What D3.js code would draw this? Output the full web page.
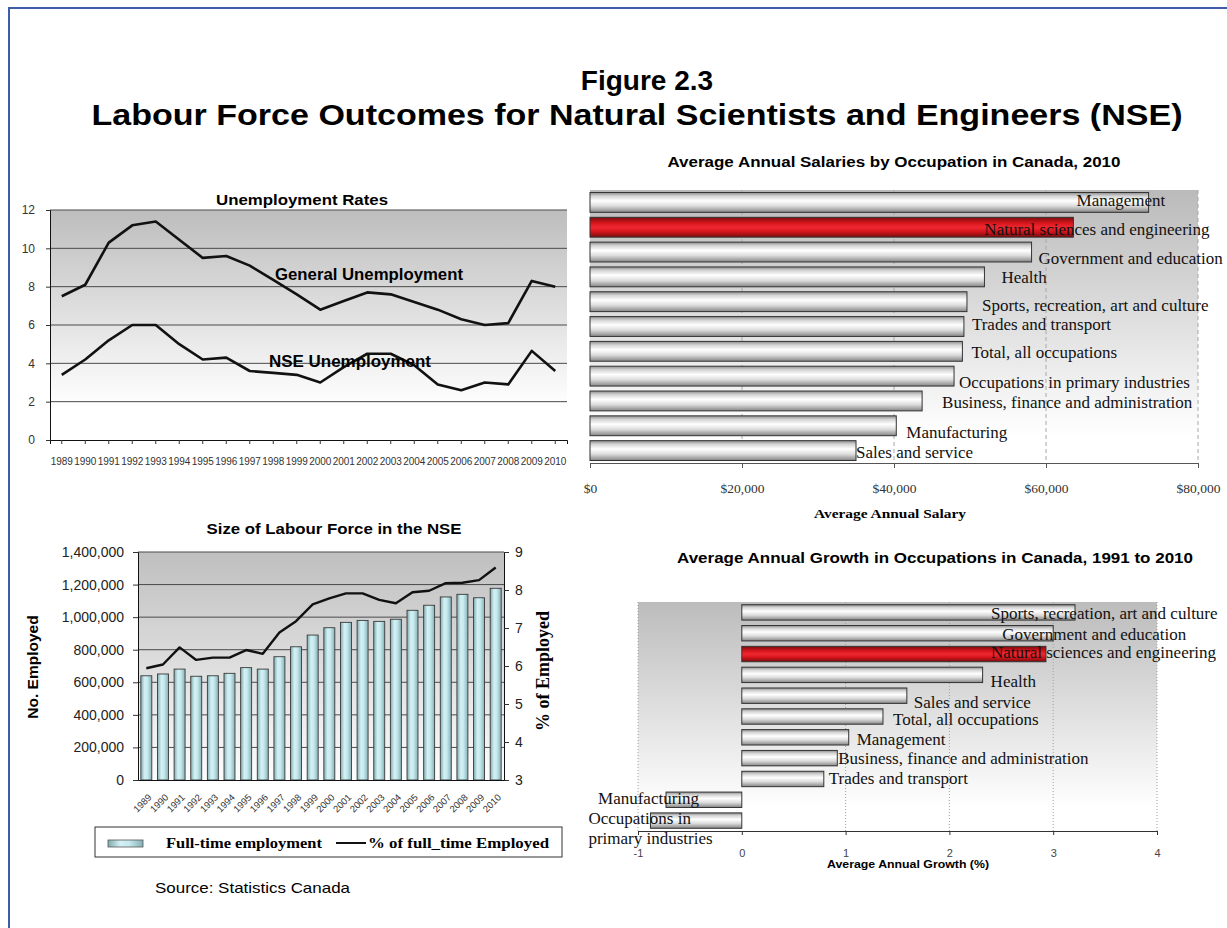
<!DOCTYPE html>
<html>
<head>
<meta charset="utf-8">
<script src="https://cdn.jsdelivr.net/npm/d3@7"></script>
<style>
  body { margin: 0; background: #fff; }
  svg { display: block; font-family: "Liberation Sans", Arial, sans-serif; }
</style>
</head>
<body>
<svg id="figure" width="1227" height="928"></svg>
<script>
// Data
const years = ["1989", "1990", "1991", "1992", "1993", "1994", "1995", "1996", "1997", "1998", "1999",
  "2000", "2001", "2002", "2003", "2004", "2005", "2006", "2007", "2008", "2009", "2010"];

const generalUnemployment = [7.5, 8.1, 10.3, 11.2, 11.4, 10.45, 9.5, 9.6, 9.1, 8.35, 7.6,
  6.8, 7.25, 7.7, 7.6, 7.2, 6.8, 6.3, 6.0, 6.1, 8.3, 8.0];
const nseUnemployment = [3.4, 4.2, 5.2, 6.0, 6.0, 5.0, 4.2, 4.3, 3.6, 3.5, 3.4,
  3.0, 3.8, 4.5, 4.5, 3.9, 2.9, 2.6, 3.0, 2.9, 4.65, 3.6];
const unemploymentTicks = [0, 2, 4, 6, 8, 10, 12];

const fullTimeEmployment = [640000, 651000, 681000, 637000, 640000, 655000, 690000, 681000, 757000, 818000, 890000,
  935000, 968000, 980000, 974000, 987000, 1042000, 1073000, 1124000, 1140000, 1119000, 1177000];
const pctFullTimeEmployed = [5.94, 6.04, 6.49, 6.16, 6.22, 6.22, 6.42, 6.32, 6.88, 7.18, 7.62,
  7.78, 7.91, 7.91, 7.74, 7.65, 7.94, 7.98, 8.18, 8.19, 8.26, 8.59];
const employedTicks = [0, 200000, 400000, 600000, 800000, 1000000, 1200000, 1400000];
const pctTicks = [3, 4, 5, 6, 7, 8, 9];

const salaryOccupations = ["Management", "Natural sciences and engineering", "Government and education", "Health",
  "Sports, recreation, art and culture", "Trades and transport", "Total, all occupations",
  "Occupations in primary industries", "Business, finance and administration", "Manufacturing", "Sales and service"];
const salaryValues = [73500, 63600, 58100, 51900, 49600, 49200, 49000, 47900, 43700, 40300, 35000];
const salaryTicks = [0, 20000, 40000, 60000, 80000];

const growthOccupations = ["Sports, recreation, art and culture", "Government and education", "Natural sciences and engineering",
  "Health", "Sales and service", "Total, all occupations", "Management", "Business, finance and administration",
  "Trades and transport", "Manufacturing", "Occupations in primary industries"];
const growthValues = [3.21, 3.0, 2.93, 2.32, 1.59, 1.36, 1.03, 0.92, 0.79, -0.73, -0.88];
const growthTicks = [-1, 0, 1, 2, 3, 4];

const highlight = "Natural sciences and engineering";

// Label nudges (pixels), copying where the original data labels sit
const salaryLabelDx = [-72, -89, 7, 17, 15, 8, 9, 5, 20, 10, 0];
const salaryLabelDy = [-2, 2, 6, 0, 3, -2, 1, 6, 1, 6, 1];
const growthLabelDx = [-84, -51, -55, 8, 7, 10, 8, 1, 5, -68, -62];
const growthLabelDy = [1, 1, -2, 6, 6, 3, 2, 0, -1, -2, -3];

const serif = '"Liberation Serif", "Times New Roman", serif';
const svg = d3.select("#figure");

// the original text is set a little wide, so stretch it to the measured length
function fit(sel, len) {
  return sel.attr("textLength", len).attr("lengthAdjust", "spacingAndGlyphs");
}

// Gradients
const defs = svg.append("defs");
function vGradient(id, stops) {
  const g = defs.append("linearGradient").attr("id", id)
    .attr("x1", 0).attr("y1", 0).attr("x2", 0).attr("y2", 1);
  stops.forEach(s => g.append("stop").attr("offset", s[0]).attr("stop-color", s[1]));
}
function hGradient(id, stops) {
  const g = defs.append("linearGradient").attr("id", id)
    .attr("x1", 0).attr("y1", 0).attr("x2", 1).attr("y2", 0);
  stops.forEach(s => g.append("stop").attr("offset", s[0]).attr("stop-color", s[1]));
}
vGradient("bgUnemp", [["0%", "#bdbdbd"], ["85%", "#ffffff"], ["100%", "#ffffff"]]);
vGradient("bgLabour", [["0%", "#bfbfbf"], ["100%", "#fdfdfd"]]);
vGradient("bgSalary", [["0%", "#bababa"], ["90%", "#ffffff"], ["100%", "#ffffff"]]);
vGradient("bgGrowth", [["0%", "#bcbcbc"], ["90%", "#ffffff"], ["100%", "#ffffff"]]);
vGradient("barGray", [["0%", "#8c8c8c"], ["18%", "#d4d4d4"], ["42%", "#ffffff"], ["68%", "#dcdcdc"], ["100%", "#858585"]]);
vGradient("barRed", [["0%", "#7a0c0c"], ["30%", "#d8161e"], ["50%", "#f02830"], ["70%", "#d8161e"], ["100%", "#7a0c0c"]]);
hGradient("barCyan", [["0%", "#7fa9ae"], ["35%", "#d4f1f4"], ["60%", "#c6eaee"], ["100%", "#86b0b5"]]);

// Page frame
svg.append("path")
  .attr("d", "M9,928 V8 H1227")
  .attr("fill", "none")
  .attr("stroke", "#3f5dab")
  .attr("stroke-width", 2);

// Main title
svg.append("text")
  .attr("x", 647).attr("y", 90)
  .attr("text-anchor", "middle")
  .attr("font-size", 28).attr("font-weight", "bold")
  .text("Figure 2.3");
fit(svg.append("text")
  .attr("x", 637).attr("y", 125)
  .attr("text-anchor", "middle")
  .attr("font-size", 29).attr("font-weight", "bold")
  .text("Labour Force Outcomes for Natural Scientists and Engineers (NSE)"), 1091);

// Render Unemployment Rates
function renderUnemployment() {
  const left = 50, right = 567, top = 210, bottom = 440;
  const x = d3.scaleBand().domain(years).range([left, right]);
  const y = d3.scaleLinear().domain([0, 12]).range([bottom, top]);
  const g = svg.append("g");

  g.append("rect")
    .attr("x", left).attr("y", top)
    .attr("width", right - left).attr("height", bottom - top)
    .attr("fill", "url(#bgUnemp)");

  g.selectAll(".grid")
    .data(unemploymentTicks.filter(d => d > 0))
    .enter().append("line")
    .attr("x1", left).attr("x2", right)
    .attr("y1", d => y(d)).attr("y2", d => y(d))
    .attr("stroke", "#4a4a4a").attr("stroke-width", 1);

  const yAxis = g.append("g")
    .attr("transform", `translate(${left},0)`)
    .call(d3.axisLeft(y).tickValues(unemploymentTicks).tickSize(4).tickPadding(11));
  yAxis.selectAll("text").attr("font-size", 12).attr("fill", "#333").attr("font-family", null);

  const xAxis = g.append("g")
    .attr("transform", `translate(0,${bottom})`)
    .call(d3.axisBottom(x).tickSize(4).tickPadding(14));
  xAxis.selectAll("text").attr("font-size", 10).attr("fill", "#333").attr("font-family", null);

  [yAxis, xAxis].forEach(a => {
    a.select(".domain").attr("stroke", "#111");
    a.selectAll(".tick line").attr("stroke", "#333");
  });

  const line = d3.line()
    .x((d, i) => x(years[i]) + x.bandwidth() / 2)
    .y(d => y(d));

  [generalUnemployment, nseUnemployment].forEach(series => {
    g.append("path")
      .datum(series)
      .attr("d", line)
      .attr("fill", "none")
      .attr("stroke", "#111")
      .attr("stroke-width", 2.6)
      .attr("stroke-linejoin", "round");
  });

  fit(g.append("text")
    .attr("x", 275).attr("y", 280)
    .attr("font-size", 16).attr("font-weight", "bold")
    .text("General Unemployment"), 188);
  fit(g.append("text")
    .attr("x", 269).attr("y", 367)
    .attr("font-size", 16).attr("font-weight", "bold")
    .text("NSE Unemployment"), 162);

  fit(g.append("text")
    .attr("x", 302).attr("y", 205)
    .attr("text-anchor", "middle")
    .attr("font-size", 15).attr("font-weight", "bold")
    .text("Unemployment Rates"), 172);
}

// Render Size of Labour Force
function renderLabourForce() {
  const left = 138, right = 504, top = 552, bottom = 780;
  const x = d3.scaleBand().domain(years).range([left, right]).paddingInner(0.34).paddingOuter(0.17);
  const yL = d3.scaleLinear().domain([0, 1400000]).range([bottom, top]);
  const yR = d3.scaleLinear().domain([3, 9]).range([bottom, top]);
  const g = svg.append("g");

  g.append("rect")
    .attr("x", left).attr("y", top)
    .attr("width", right - left).attr("height", bottom - top)
    .attr("fill", "url(#bgLabour)");

  g.selectAll(".grid")
    .data(employedTicks.filter(d => d > 0))
    .enter().append("line")
    .attr("x1", left).attr("x2", right)
    .attr("y1", d => yL(d)).attr("y2", d => yL(d))
    .attr("stroke", "#4a4a4a").attr("stroke-width", 1);

  // Bars
  g.selectAll(".bar")
    .data(fullTimeEmployment)
    .enter().append("rect")
    .attr("x", (d, i) => x(years[i]))
    .attr("y", d => yL(d))
    .attr("width", x.bandwidth())
    .attr("height", d => bottom - yL(d))
    .attr("fill", "url(#barCyan)")
    .attr("stroke", "#3a3a3a")
    .attr("stroke-width", 0.9);

  // Percentage line
  const line = d3.line()
    .x((d, i) => x(years[i]) + x.bandwidth() / 2)
    .y(d => yR(d));
  g.append("path")
    .datum(pctFullTimeEmployed)
    .attr("d", line)
    .attr("fill", "none")
    .attr("stroke", "#111")
    .attr("stroke-width", 2.4)
    .attr("stroke-linejoin", "round");

  const yAxisL = g.append("g")
    .attr("transform", `translate(${left},0)`)
    .call(d3.axisLeft(yL).tickValues(employedTicks).tickFormat(d3.format(",")).tickSize(5).tickPadding(9));
  const yAxisR = g.append("g")
    .attr("transform", `translate(${right},0)`)
    .call(d3.axisRight(yR).tickValues(pctTicks).tickFormat(d3.format("d")).tickSize(5).tickPadding(6));
  [yAxisL, yAxisR].forEach(a => {
    a.selectAll("text").attr("font-size", 14).attr("fill", "#222").attr("font-family", null);
    a.select(".domain").attr("stroke", "#111");
    a.selectAll(".tick line").attr("stroke", "#333");
  });

  const xAxis = g.append("g")
    .attr("transform", `translate(0,${bottom})`)
    .call(d3.axisBottom(x).tickSize(0).tickPadding(0));
  xAxis.select(".domain").attr("stroke", "#111");
  xAxis.selectAll("text")
    .attr("font-size", 9.5).attr("fill", "#333").attr("font-family", null)
    .attr("text-anchor", "end")
    .attr("dy", null)
    .attr("transform", "translate(6,18) rotate(-45)");

  g.append("text")
    .attr("transform", "translate(38,667) rotate(-90)")
    .attr("text-anchor", "middle")
    .attr("font-size", 15.5).attr("font-weight", "bold")
    .text("No. Employed");
  g.append("text")
    .attr("transform", "translate(549,671) rotate(-90)")
    .attr("text-anchor", "middle")
    .attr("font-family", serif)
    .attr("font-size", 18).attr("font-weight", "bold")
    .text("% of Employed");

  fit(g.append("text")
    .attr("x", 334).attr("y", 534)
    .attr("text-anchor", "middle")
    .attr("font-size", 15).attr("font-weight", "bold")
    .text("Size of Labour Force in the NSE"), 255);

  // Legend
  const lg = g.append("g");
  lg.append("rect")
    .attr("x", 95).attr("y", 827).attr("width", 467).attr("height", 30)
    .attr("fill", "#fff").attr("stroke", "#333").attr("stroke-width", 1);
  lg.append("rect")
    .attr("x", 108).attr("y", 840).attr("width", 35).attr("height", 7)
    .attr("fill", "url(#barCyan)").attr("stroke", "#555").attr("stroke-width", 0.8);
  fit(lg.append("text")
    .attr("x", 166).attr("y", 848)
    .attr("font-family", serif).attr("font-size", 15).attr("font-weight", "bold")
    .text("Full-time employment"), 156);
  lg.append("line")
    .attr("x1", 336).attr("x2", 366).attr("y1", 843).attr("y2", 843)
    .attr("stroke", "#111").attr("stroke-width", 2);
  fit(lg.append("text")
    .attr("x", 368).attr("y", 848)
    .attr("font-family", serif).attr("font-size", 15).attr("font-weight", "bold")
    .text("% of full_time Employed"), 181);

  fit(svg.append("text")
    .attr("x", 155).attr("y", 893)
    .attr("font-size", 15)
    .text("Source: Statistics Canada"), 195);
}

// Render Average Annual Salaries
function renderSalaries() {
  const left = 590, right = 1198, top = 190, bottom = 463;
  const x = d3.scaleLinear().domain([0, 80000]).range([left, right]);
  const y = d3.scaleBand().domain(salaryOccupations).range([top, bottom]).paddingInner(0.2).paddingOuter(0.1);
  const g = svg.append("g");

  g.append("rect")
    .attr("x", left).attr("y", top)
    .attr("width", right - left).attr("height", bottom - top)
    .attr("fill", "url(#bgSalary)");

  g.selectAll(".grid")
    .data(salaryTicks.filter(d => d > 0))
    .enter().append("line")
    .attr("x1", d => x(d)).attr("x2", d => x(d))
    .attr("y1", top).attr("y2", bottom)
    .attr("stroke", "#a8a8a8").attr("stroke-dasharray", "4,3");

  g.selectAll(".bar")
    .data(salaryValues)
    .enter().append("rect")
    .attr("x", left)
    .attr("y", (d, i) => y(salaryOccupations[i]))
    .attr("width", d => x(d) - left)
    .attr("height", y.bandwidth())
    .attr("fill", (d, i) => salaryOccupations[i] === highlight ? "url(#barRed)" : "url(#barGray)")
    .attr("stroke", "#333").attr("stroke-width", 1);

  g.selectAll(".label")
    .data(salaryValues)
    .enter().append("text")
    .attr("x", (d, i) => x(d) + salaryLabelDx[i])
    .attr("y", (d, i) => y(salaryOccupations[i]) + y.bandwidth() / 2 + salaryLabelDy[i])
    .attr("dy", "0.35em")
    .attr("font-family", serif).attr("font-size", 17).attr("fill", "#111")
    .text((d, i) => salaryOccupations[i]);

  const xAxis = g.append("g")
    .attr("transform", `translate(0,${bottom})`)
    .call(d3.axisBottom(x).tickValues(salaryTicks).tickFormat(d3.format("$,")).tickSize(5).tickPadding(15));
  xAxis.selectAll("text").attr("font-size", 13.5).attr("fill", "#333").attr("font-family", serif);
  xAxis.select(".domain").attr("stroke", "#555");
  xAxis.selectAll(".tick line").attr("stroke", "#555");

  fit(g.append("text")
    .attr("x", 890).attr("y", 518)
    .attr("text-anchor", "middle")
    .attr("font-family", serif).attr("font-size", 13).attr("font-weight", "bold")
    .text("Average Annual Salary"), 152);

  fit(g.append("text")
    .attr("x", 894).attr("y", 167)
    .attr("text-anchor", "middle")
    .attr("font-size", 14).attr("font-weight", "bold")
    .text("Average Annual Salaries by Occupation in Canada, 2010"), 453);
}

// Render Average Annual Growth
function renderGrowth() {
  const left = 638, right = 1157, top = 602, bottom = 831;
  const x = d3.scaleLinear().domain([-1, 4]).range([left, right]);
  const y = d3.scaleBand().domain(growthOccupations).range([top, bottom]).paddingInner(0.26).paddingOuter(0.13);
  const g = svg.append("g");

  g.append("rect")
    .attr("x", left).attr("y", top)
    .attr("width", right - left).attr("height", bottom - top)
    .attr("fill", "url(#bgGrowth)");

  g.selectAll(".grid")
    .data(growthTicks.filter(d => d !== 0))
    .enter().append("line")
    .attr("x1", d => x(d)).attr("x2", d => x(d))
    .attr("y1", top).attr("y2", bottom)
    .attr("stroke", "#a0a0a0").attr("stroke-dasharray", "1,2");

  g.selectAll(".bar")
    .data(growthValues)
    .enter().append("rect")
    .attr("x", d => x(Math.min(0, d)))
    .attr("y", (d, i) => y(growthOccupations[i]))
    .attr("width", d => Math.abs(x(d) - x(0)))
    .attr("height", y.bandwidth())
    .attr("fill", (d, i) => growthOccupations[i] === highlight ? "url(#barRed)" : "url(#barGray)")
    .attr("stroke", "#333").attr("stroke-width", 1);

  const labels = g.selectAll(".label")
    .data(growthValues)
    .enter().append("text")
    .attr("x", (d, i) => x(d) + growthLabelDx[i])
    .attr("y", (d, i) => y(growthOccupations[i]) + y.bandwidth() / 2 + growthLabelDy[i])
    .attr("dy", "0.35em")
    .attr("font-family", serif).attr("font-size", 17).attr("fill", "#111");

  // long labels on the negative side wrap onto two lines
  labels.each(function (d, i) {
    const name = growthOccupations[i];
    const t = d3.select(this);
    if (d < 0 && name.length > 20) {
      const cut = name.indexOf(" ", 12);
      t.append("tspan").text(name.slice(0, cut));
      t.append("tspan").attr("x", x(d) + growthLabelDx[i]).attr("dy", "1.2em").text(name.slice(cut + 1));
    } else {
      t.text(name);
    }
  });

  const xAxis = g.append("g")
    .attr("transform", `translate(0,${bottom})`)
    .call(d3.axisBottom(x).tickValues(growthTicks).tickFormat(d => String(d)).tickSize(4).tickPadding(14));
  xAxis.selectAll("text").attr("font-size", 11).attr("fill", "#444").attr("font-family", null);
  xAxis.select(".domain").attr("stroke", "#333");
  xAxis.selectAll(".tick line").attr("stroke", "#333");

  fit(g.append("text")
    .attr("x", 908).attr("y", 868)
    .attr("text-anchor", "middle")
    .attr("font-size", 10).attr("font-weight", "bold")
    .text("Average Annual Growth (%)"), 162);

  fit(g.append("text")
    .attr("x", 935).attr("y", 563)
    .attr("text-anchor", "middle")
    .attr("font-size", 14).attr("font-weight", "bold")
    .text("Average Annual Growth in Occupations in Canada, 1991 to 2010"), 516);
}

renderUnemployment();
renderLabourForce();
renderSalaries();
renderGrowth();
</script>
</body>
</html>
